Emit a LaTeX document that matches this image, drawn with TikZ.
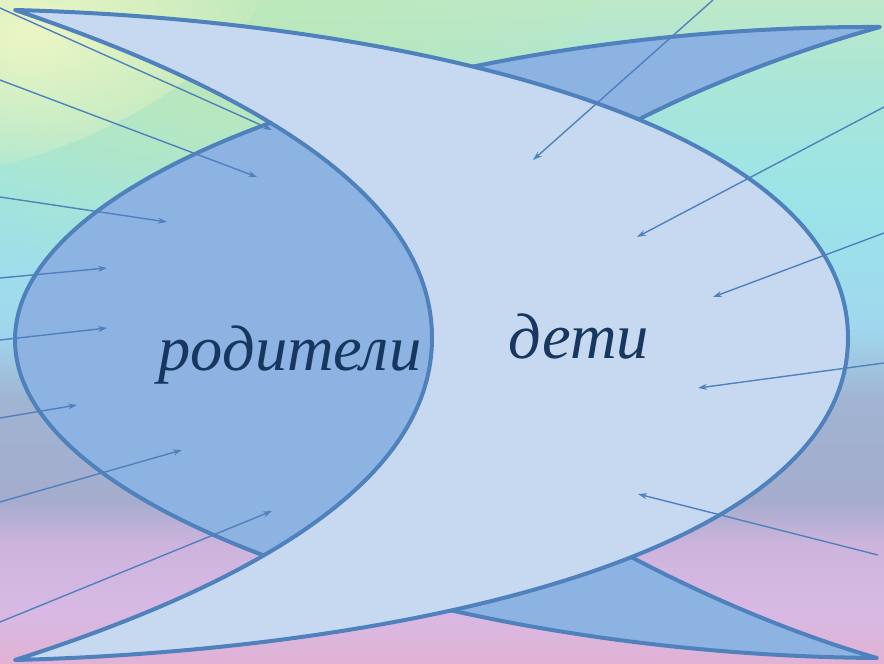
\documentclass[tikz,border=0pt]{standalone}
\usepackage{fontspec}
\setmainfont{Liberation Serif}
\usetikzlibrary{arrows.meta,fadings}
\definecolor{bord}{HTML}{4F81BD}
\definecolor{darkfill}{HTML}{8DB3E2}
\definecolor{lightfill}{HTML}{C6D9F1}
\definecolor{txt}{HTML}{17375E}
\definecolor{yel}{RGB}{236,246,196}
\definecolor{grn}{RGB}{188,232,184}
\pgfdeclareverticalshading{bgshade}{100bp}{%
 color(0bp)=(rgb,255:red,225;green,178;blue,212);
 color(25bp)=(rgb,255:red,225;green,178;blue,212);
 color(29.1bp)=(rgb,255:red,215;green,185;blue,228);
 color(34bp)=(rgb,255:red,205;green,180;blue,220);
 color(37.3bp)=(rgb,255:red,165;green,172;blue,205);
 color(44.9bp)=(rgb,255:red,160;green,180;blue,210);
 color(50.2bp)=(rgb,255:red,160;green,215;blue,238);
 color(60bp)=(rgb,255:red,155;green,228;blue,232);
 color(69bp)=(rgb,255:red,170;green,230;blue,215);
 color(75bp)=(rgb,255:red,190;green,232;blue,200);
 color(100bp)=(rgb,255:red,190;green,232;blue,200)}
\tikzfading[name=softfade, inner color=transparent!0, outer color=transparent!100]
\begin{document}
\begin{tikzpicture}[x=1pt,y=-1pt,
  shapeline/.style={draw=bord, line width=4pt, line join=round},
  arr/.style={draw=bord, line width=1.4pt, -{Stealth[length=9pt,width=6pt,inset=3pt]}},
  lbl/.style={font=\fontsize{64.5}{64.5}\selectfont\itshape, text=txt, inner sep=0pt, anchor=base}]
\useasboundingbox (0,0) rectangle (884,664);
\clip (0,0) rectangle (884,664);
% background
\shade[shading=bgshade] (0,0) rectangle (884,664);
\begin{scope}[shift={(230,60)}, rotate=22]
  \fill[grn, path fading=softfade] (0,0) ellipse [x radius=420, y radius=170];
\end{scope}
\begin{scope}[shift={(30,30)}, rotate=22]
  \fill[yel, path fading=softfade] (0,0) ellipse [x radius=260, y radius=120];
\end{scope}
% dark crescent
\path[shapeline, fill=darkfill] (880,27) .. controls (450,25) and (15,165) .. (15,340)
   .. controls (15,515) and (450,655) .. (877,658)
   .. controls (780,630) and (680,585) .. (600,540)
   .. controls (520,495) and (520,185) .. (600,140)
   .. controls (680,95) and (780,55) .. cycle;
% light crescent
\path[shapeline, fill=lightfill] (15,10) .. controls (400,20) and (848,120) .. (848,338)
  .. controls (848,556) and (400,650) .. (15,660)
  .. controls (340,556) and (432,441) .. (432,338)
  .. controls (432,235) and (340,120) .. cycle;
% labels
\node[lbl] (par) at (290,370) {родители};
\node[lbl] (kid) at (579,358) {дети};
% arrow end points
\coordinate (s1) at (0,8);     \coordinate (e1) at (272,130);
\coordinate (s2) at (0,80);    \coordinate (e2) at (257,177);
\coordinate (s3) at (0,197);   \coordinate (e3) at (167,222);
\coordinate (s4) at (0,278);   \coordinate (e4) at (107,268);
\coordinate (s5) at (0,340);   \coordinate (e5) at (107,328);
\coordinate (s6) at (0,418);   \coordinate (e6) at (77,405);
\coordinate (s7) at (0,502);   \coordinate (e7) at (182,450);
\coordinate (s8) at (0,622);   \coordinate (e8) at (272,511);
\coordinate (r1) at (713,0);   \coordinate (f1) at (533,160);
\coordinate (r2) at (884,107); \coordinate (f2) at (637,237);
\coordinate (r3) at (884,233); \coordinate (f3) at (713,297);
\coordinate (r4) at (884,363); \coordinate (f4) at (698,388);
\coordinate (r5) at (878,555); \coordinate (f5) at (638,494);
\foreach \a/\b in {s1/e1,s2/e2,s3/e3,s4/e4,s5/e5,s6/e6,s7/e7,s8/e8,r1/f1,r2/f2,r3/f3,r4/f4,r5/f5}
  \draw[arr] (\a) -- (\b);
\end{tikzpicture}
\end{document}
